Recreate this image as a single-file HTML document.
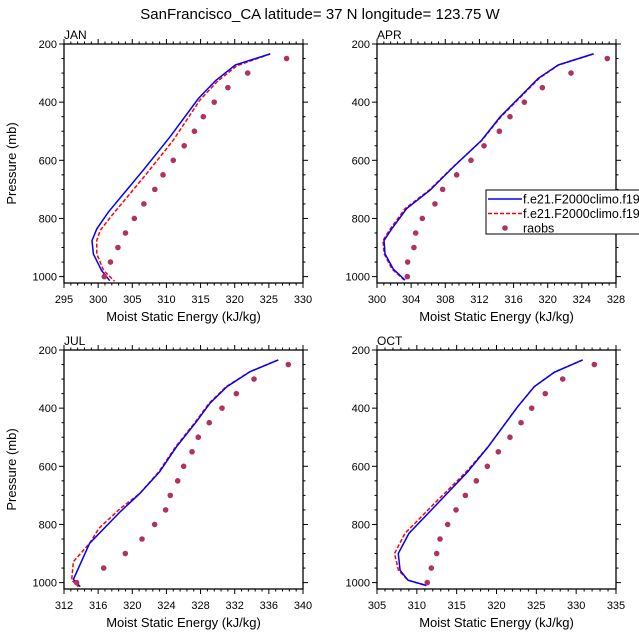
<!DOCTYPE html>
<html><head><meta charset="utf-8"><style>
body{margin:0;background:#fff;}
svg{display:block;font-family:"Liberation Sans",sans-serif;}
</style></head><body>
<svg id="chart" width="639" height="639" viewBox="0 0 639 639" xmlns="http://www.w3.org/2000/svg">
<text x="320" y="19" font-size="15" text-anchor="middle">SanFrancisco_CA  latitude= 37 N longitude= 123.75 W</text>
</svg>
<script>
const panelNames = ["JAN","APR","JUL","OCT"];
const xMins = [295,300,312,305];
const xMaxs = [330,328,340,335];
const xSteps = [5,4,4,5];
const yTicks = [200,400,600,800,1000];
const obsLevels = [250,300,350,400,450,500,550,600,650,700,750,800,850,900,950,1000];
const obsJan = [327.6,321.9,319.0,317.0,315.4,314.1,312.6,311.0,309.5,308.3,306.7,305.3,304.0,302.9,301.8,300.9];
const obsApr = [326.98,322.73,319.37,317.26,315.58,314.33,312.54,311.01,309.33,307.69,306.79,305.31,304.53,304.33,303.59,303.55];
const obsJul = [338.28,334.26,332.19,330.51,329.02,327.73,327.0,326.02,325.32,324.45,323.91,322.62,321.14,319.18,316.65,313.48];
const obsOct = [332.28,328.31,326.12,324.42,323.08,321.69,320.23,318.85,317.47,316.09,314.92,313.87,312.91,312.49,311.82,311.31];
const janBlueP = [234,272,326,387,520,634,778,836,876,922,979,1014];
const janBlueX = [325.2,320.1,317.2,314.7,310.5,306.6,301.5,299.8,299.1,299.3,300.5,301.7];
const janRedP = [234,275,330,393,531,646,790,841,876,922,979,1016];
const janRedX = [325.2,320.3,317.4,314.9,311.0,307.1,302.0,300.3,299.8,299.8,300.8,302.4];
const aprBlueP = [234,272,318,451,531,623,703,766,836,876,922,974,1012];
const aprBlueX = [325.34,321.24,318.9,314.41,312.26,308.94,306.21,303.48,301.72,300.82,300.94,301.91,303.28];
const aprRedP = [234,272,318,451,531,623,703,766,836,876,922,974,1012];
const aprRedX = [325.4,321.3,319.0,314.5,312.3,308.9,306.1,303.3,301.55,300.7,300.85,301.75,303.2];
const julBlueP = [234,274.5,326,383,447,532,619,693,756,865,989,1014];
const julBlueX = [337.1,333.8,331.1,329.1,327.5,325.2,323.2,320.9,318.6,315.0,313.1,313.9];
const julRedP = [234,274.5,326,383,447,532,619,693,745,813,865,928,991,1014];
const julRedX = [337.1,333.8,331.0,329.0,327.4,325.1,323.1,320.9,318.6,316.1,315.0,313.1,312.9,313.7];
const octBlueP = [234,276.6,326,395,504,535,619,728,831,900,958,992,1010];
const octBlueX = [330.81,327.25,324.74,322.66,319.72,318.89,316.38,312.6,309.0,307.67,307.9,308.9,311.2];
const octRedP = [234,276.6,326,395,504,535,619,728,831,900,958,992,1010];
const octRedX = [330.81,327.25,324.74,322.66,319.72,318.89,316.2,312.2,308.5,307.2,307.7,308.9,311.2];
const legendLabels = ["f.e21.F2000climo.f19_f19.cam6","f.e21.F2000climo.f19_f19.cam6_mod","raobs"];

const obsAll=[obsJan,obsApr,obsJul,obsOct];
const blueP=[janBlueP,aprBlueP,julBlueP,octBlueP], blueX=[janBlueX,aprBlueX,julBlueX,octBlueX];
const redP=[janRedP,aprRedP,julRedP,octRedP], redX=[janRedX,aprRedX,julRedX,octRedX];
const svg=document.getElementById('chart');
const NS="http://www.w3.org/2000/svg";
function mk(tag,attrs,parent){const e=document.createElementNS(NS,tag);for(const k in attrs)e.setAttribute(k,attrs[k]);(parent||svg).appendChild(e);return e;}
const lefts=[64,377,64,377], tops=[44,44,350,350], W=239, H=239, pMin=200, pMax=1022;
for(let i=0;i<4;i++){
  const L=lefts[i],T=tops[i];
  const g=mk('g',{});
  
  
  const xs=v=>L+(v-xMins[i])/(xMaxs[i]-xMins[i])*W;
  const ys=p=>T+(p-pMin)/(pMax-pMin)*H;
  const fr=mk('rect',{x:L,y:T,width:W,height:H,fill:'none',stroke:'#000','stroke-width':1.3},g);
  
  
  const step=xSteps[i], minor=step/5;
  for(let v=xMins[i];v<=xMaxs[i]+1e-6;v+=minor){
    const x=xs(v); const maj=Math.abs(Math.round((v-xMins[i])/step)*step-(v-xMins[i]))<1e-6;
    const len=maj?5:2.5;
    mk('line',{x1:x,x2:x,y1:T,y2:T-len,stroke:'#000','stroke-width':1},g);
    mk('line',{x1:x,x2:x,y1:T+H,y2:T+H+len,stroke:'#000','stroke-width':1},g);
  }
  for(let v=xMins[i];v<=xMaxs[i]+1e-6;v+=step){
    const t=mk('text',{x:xs(v),y:T+H+20,'font-size':11,'text-anchor':'middle'},g);
    
    
    t.textContent=String(v);
  }
  for(let p=200;p<=1000;p+=50){
    const y=ys(p), maj=p%200===0, len=maj?5:2.5;
    mk('line',{x1:L,x2:L-len,y1:y,y2:y,stroke:'#000','stroke-width':1},g);
    mk('line',{x1:L+W,x2:L+W+len,y1:y,y2:y,stroke:'#000','stroke-width':1},g);
  }
  yTicks.forEach(p=>{
    const t=mk('text',{x:L-7,y:ys(p)+4,'font-size':11,'text-anchor':'end'},g);
    
    
    t.textContent=String(p);
  });
  const pt=mk('text',{x:L,y:T-5,'font-size':12},g);
  
  
  pt.textContent=panelNames[i];
  const xl=mk('text',{x:L+W/2,y:T+H+38,'font-size':13,'text-anchor':'middle'},g);
  
  
  xl.textContent='Moist Static Energy (kJ/kg)';
  if(i%2===0){
    const yl=mk('text',{x:0,y:0,'font-size':13,'text-anchor':'middle',transform:`translate(16,${T+H/2}) rotate(-90)`},g);
    
    
    yl.textContent='Pressure (mb)';
  }
  const rl=mk('polyline',{points:redP[i].map((p,k)=>xs(redX[i][k])+','+ys(p)).join(' '),fill:'none',stroke:'#ff0000','stroke-width':1.5,'stroke-dasharray':'4,2'},g);
  
  
  const bl=mk('polyline',{points:blueP[i].map((p,k)=>xs(blueX[i][k])+','+ys(p)).join(' '),fill:'none',stroke:'#0000ff','stroke-width':1.5},g);
  
  
  obsLevels.forEach((p,k)=>{
    const c=mk('circle',{cx:xs(obsAll[i][k]),cy:ys(p),r:2.8,fill:'#b0325e'},g);
    
    
  });
}
const lg=mk('g',{});


mk('rect',{x:486,y:190,width:160,height:44,fill:'#fff',stroke:'#000','stroke-width':1},lg);
const rows=[199,213.5,228];
mk('line',{x1:488,x2:522,y1:rows[0],y2:rows[0],stroke:'#0000ff','stroke-width':1.5},lg);
mk('line',{x1:488,x2:522,y1:rows[1],y2:rows[1],stroke:'#ff0000','stroke-width':1.5,'stroke-dasharray':'4,2'},lg);
mk('circle',{cx:505,cy:rows[2],r:2.8,fill:'#b0325e'},lg);
legendLabels.forEach((s,k)=>{
  const t=mk('text',{x:523,y:rows[k]+4.5,'font-size':12.5},lg);
  
  
  t.textContent=s;
});
</script>
</body></html>
